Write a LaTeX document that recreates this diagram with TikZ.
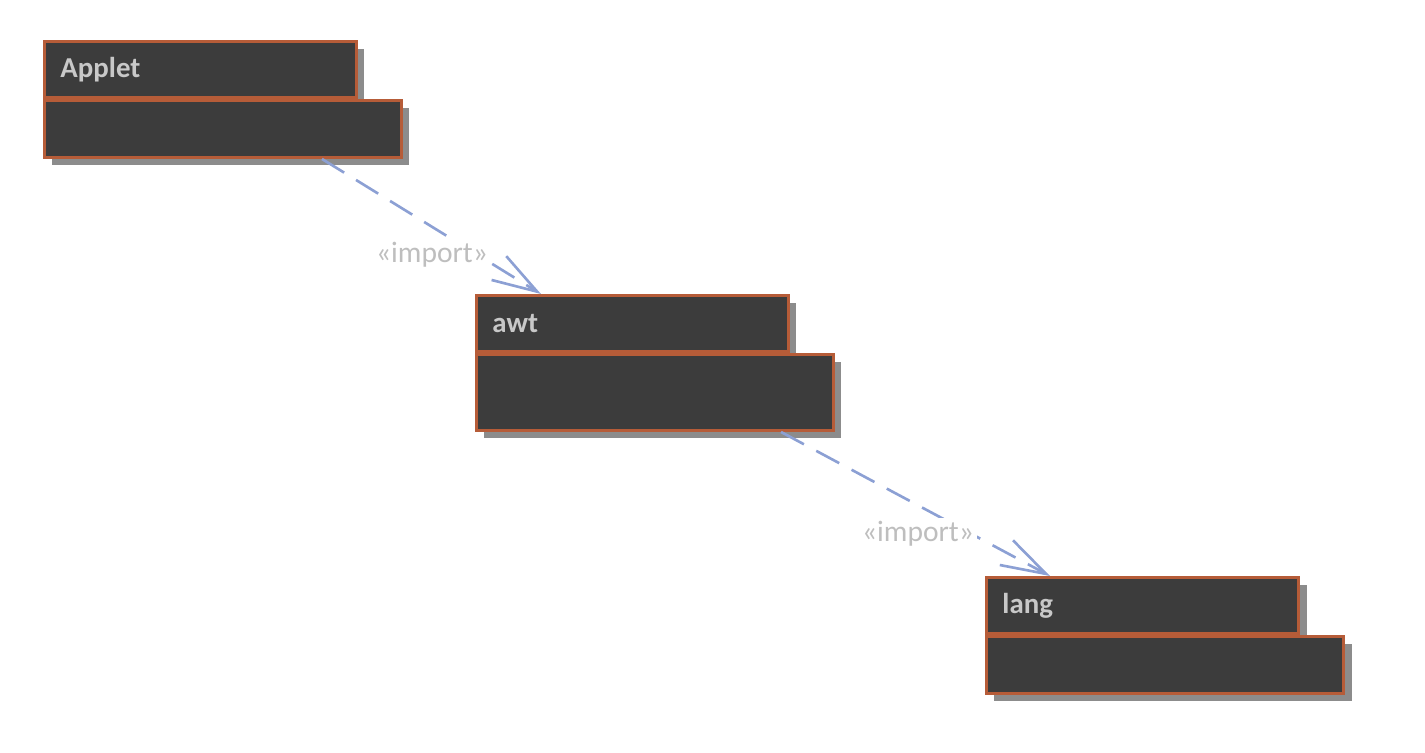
\documentclass[tikz,border=0pt]{standalone}
\usepackage{fontspec}
\setmainfont{Carlito}
\usepackage{tikz}
\usetikzlibrary{positioning,arrows.meta,shadows,calc}
\definecolor{pkgfill}{RGB}{60,60,60}
\definecolor{pkgedge}{RGB}{182,92,56}
\definecolor{pkgtext}{RGB}{200,200,200}
\definecolor{lblgray}{RGB}{190,190,190}
\definecolor{depblue}{RGB}{140,160,212}
\definecolor{shadowgray}{RGB}{140,140,140}

\begin{document}
\begin{tikzpicture}[
    font=\fontsize{8.4}{10}\selectfont,
    pkgbox/.style={draw=pkgedge, line width=0.85pt, fill=pkgfill,
        drop shadow={shadow xshift=0.08cm, shadow yshift=-0.08cm, fill=shadowgray, opacity=1}},
    pkgtab/.style={pkgbox, anchor=north west, minimum width=3.12cm, minimum height=0.56cm,
        text width=2.8cm, inner xsep=0.16cm, align=left, text=pkgtext, font=\fontsize{8.2}{10}\selectfont\bfseries},
    pkgbody/.style={pkgbox, minimum width=3.57cm, minimum height=0.57cm, inner sep=0pt},
    importlbl/.style={text=lblgray, fill=white, inner sep=1pt},
    dep/.style={draw=depblue, line width=0.75pt, dash pattern=on 0.26cm off 0.14cm,
        -{Straight Barb[length=4.5mm, width=2.8mm, line width=0.75pt]}}
]
\useasboundingbox (0,0) rectangle (14.25,-7.53);

% packages
\node[pkgtab] (applet) at (0.43,-0.40) {Applet};
\node[pkgbody, below right=0pt and 0pt of applet.south west] (appletbody) {};

\node[pkgtab] (awt) at (4.75,-2.94) {awt};
\node[pkgbody, minimum height=0.76cm, below right=0pt and 0pt of awt.south west] (awtbody) {};

\node[pkgtab] (lang) at (9.85,-5.76) {lang};
\node[pkgbody, below right=0pt and 0pt of lang.south west] (langbody) {};

% imports
\draw[dep] ($(appletbody.south west)+(2.79,0)$) -- ($(awt.north west)+(0.66,0)$);
\node[importlbl] (imp1) at (4.32,-2.55) {«import»};

\draw[dep] ($(awtbody.south west)+(3.06,0)$) -- ($(lang.north west)+(0.65,0)$);
\node[importlbl] (imp2) at (9.18,-5.34) {«import»};
\end{tikzpicture}
\end{document}
